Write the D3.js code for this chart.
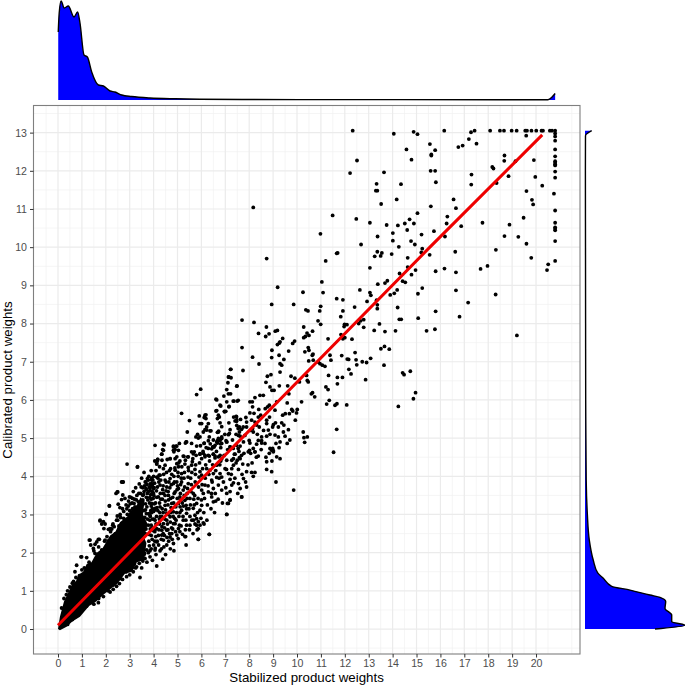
<!DOCTYPE html>
<html>
<head>
<meta charset="utf-8">
<script src="https://cdn.jsdelivr.net/npm/d3@7"></script>
<style>
html, body { margin: 0; padding: 0; background: #fff; }
svg { display: block; font-family: "Liberation Sans", Arial, sans-serif; }
</style>
</head>
<body>
<div id="chart"></div>
<script>
'use strict';

var xTicks = d3.range(0, 21);
var yTicks = d3.range(0, 14);
var xTitle = 'Stabilized product weights';
var yTitle = 'Calibrated product weights';

// points stuck at the upper limits of the two weights
var capTopRow = [[12.33,13.05],[16.16,13.05],[17.28,13.01],[17.43,13.05],[18.08,13.05],[18.49,13.05],[18.66,13.05],[18.98,13.05],[19.19,13.05],[19.55,13.05],[19.62,13.05],[19.81,13.05],[20.01,13.05],[20.23,13.05],[20.29,13.05],[20.58,13.05],[20.67,13.05],[20.8,13.05]];
var capRightColumn = [[20.8,12.98],[20.8,12.9],[20.8,12.79],[20.8,12.56],[20.8,12.38],[20.8,12.25],[20.8,12.21],[20.8,12.17],[20.8,12.14],[20.8,11.98],[20.8,11.82],[20.75,11.4],[20.8,10.96],[20.8,10.64],[20.8,10.52],[20.8,10.48],[20.8,10.44],[20.8,10.16],[20.8,9.64]];

var upperPoints = [[14.05,12.97],[14.88,13.02],[15.04,12.96],[14.58,12.56],[14.79,12.29],[15.56,12.7],[15.78,12.54],[15.62,12.43],[15.62,12.4],[13.64,11.96],[15.59,12],[15.78,12],[13.33,11.66],[14.35,11.65],[15.81,11.7],[13.3,11.48],[13.36,11.48],[14.17,11.25],[13.52,11.13],[15.6,11.07],[15.04,10.89],[13.05,10.64],[13.75,10.58],[14.22,10.57],[14.51,10.62],[14.71,10.73],[14.89,10.62],[14.61,10.45],[14.01,10.37],[13.37,10.28],[14.01,10.17],[15.21,10.33],[14.77,10.16],[14.93,10.07],[14.26,10.01],[15.73,10.42],[15.24,9.96],[15.2,9.86],[15.55,9.8],[14.63,9.72],[13.96,9.82],[13.36,9.88],[13.25,9.76],[13.5,9.77],[13.55,9.85],[13.05,9.46],[14.63,9.48],[14.96,9.4],[14.79,9.28],[14.29,9.31],[14.42,9.11],[14.53,9.08],[13.78,9.12],[13.68,9.06],[13.38,9.03],[14.19,8.88],[14.07,8.79],[13.9,8.75],[15.24,8.93],[15.06,8.78],[13.05,8.81],[13.09,8.74],[13.33,8.61],[13.36,8.49],[13.36,8.39],[14.21,8.42],[15.8,8.32],[15.07,8.14],[14.28,8.11],[14.36,8.11],[13.45,7.99],[13.23,7.82],[13.68,7.79],[14.12,7.81],[15.42,7.81],[15.77,7.85],[13.51,7.34],[13.66,7.4],[13.86,7.33],[16.55,11.25],[16.65,11.02],[16.29,10.8],[16.26,10.62],[16.87,10.55],[16.19,10.28],[16.62,9.88],[16.17,9.44],[15.8,9.37],[16.65,9.34],[16.65,8.87],[17.16,8.55],[16.8,8.18],[17.68,9.43],[17.97,9.51],[18.31,8.76],[18.32,9.93],[17.76,10.64],[18.89,10.59],[18.68,10.29],[19.26,10.27],[19.48,10.77],[19.6,10.09],[19.8,9.72],[19.2,7.69],[20.51,9.55],[20.46,9.4],[19.6,11.47],[19.83,11.24],[19.88,11.12],[20.26,11.61],[19.97,11.84],[19.91,12.28],[18.85,11.86],[19.14,12.25],[18.68,12.4],[18.67,12.26],[18.17,12.1],[18.22,12.06],[18.35,11.68],[17.3,11.9],[17.29,11.64],[16.75,12.62],[16.93,12.66],[17.19,12.83],[17.51,12.71],[19.59,12.92],[12.51,12.27],[12.22,11.94],[8.17,11.04],[11.49,10.83],[12.48,10.74],[10.98,10.35]];

var middlePoints = [[12.68,10.07],[11.7,9.85],[11.66,9.84],[11.2,9.64],[8.73,9.7],[11.04,9.09],[11.09,8.81],[10.25,8.82],[9.19,8.95],[8.94,8.5],[9.86,8.5],[11.66,8.65],[11.92,8.62],[12.63,8.88],[12.93,8.58],[12.41,8.43],[10.99,8.45],[10.95,8.33],[10.37,8.36],[10.46,8.33],[11.92,8.33],[11.83,8.18],[10.88,8.07],[10.99,7.98],[7.7,8.09],[8.2,8.03],[8.72,7.91],[10.28,7.91],[11.99,7.98],[12.09,7.97],[11.97,7.92],[12.58,8],[12.66,8.07],[12.79,8.1],[12.79,7.9],[8.39,7.74],[8.83,7.73],[8.69,7.66],[9.09,7.8],[9.18,7.82],[10.42,7.75],[10.5,7.69],[10.35,7.66],[10.28,7.63],[10.65,7.8],[11.84,7.71],[12,7.63],[11.92,7.6],[11.3,7.6],[12.3,7.59],[9.4,7.61],[9.29,7.52],[9.18,7.45],[9.26,7.49],[9.9,7.54],[9.82,7.48],[7.7,7.37],[10.47,7.37],[10.33,7.26],[10.5,7.3],[8.95,7.3],[9.65,7.28],[8.14,7.12],[8.94,7.11],[9.25,7.17],[9.45,7.06],[10.67,7.2],[10.64,7.17],[10.49,7.02],[10.68,7.04],[8.41,6.94],[9.29,6.95],[9.36,6.91],[10.89,6.99],[10.96,6.95],[11.06,6.91],[11.17,6.88],[11.38,7.17],[11.42,7.04],[11.87,7.16],[12.1,7.07],[12.16,7.06],[12.43,7.24],[12.47,7.05],[12.5,6.92],[12.73,7],[12.91,6.98],[13.08,7.09],[12.17,6.8],[12.26,6.68],[12.87,6.53],[7.22,6.8],[7.74,6.77],[7.15,6.6],[7.24,6.58],[7.11,6.45],[7.49,6.37],[5.97,6.28],[8.76,6.62],[8.91,6.66],[8.7,6.46],[8.87,6.34],[8.95,6.25],[9.04,6.25],[9.29,6.73],[9.75,6.62],[9.91,6.57],[10.4,6.64],[10.43,6.51],[10.47,6.47],[10.1,6.47],[9.26,6.37],[9.61,6.37],[11.32,6.64],[11.69,6.59],[11.69,6.42],[11.9,6.59],[11.21,6.34],[11.3,6.27],[10.6,6.16],[10.65,6.19],[10.74,6.08],[11.35,5.99],[11.24,5.89],[11.59,5.86],[11.67,5.9],[12.08,5.87],[10.19,5.95],[9.59,5.92],[9.66,6.16],[7.06,6.27],[7.13,6.16],[7.22,6.16],[6.94,6.1],[6.61,6.02],[6.78,5.86],[6.61,5.71],[6.97,5.69],[7.06,5.95],[7.15,5.82],[7.33,5.97],[7.5,5.97],[7.54,5.99],[8.03,5.95],[8.13,5.95],[8.24,6.06],[8.45,6.12],[8.59,6.12],[8.14,5.82],[8.77,5.82],[8.84,5.86],[8.67,5.77],[9.08,5.73],[9.15,5.95],[9.78,5.75],[10.01,5.75],[9.98,5.66],[9.82,5.71],[9.68,5.64],[9.51,5.64],[9.93,5.47],[10.26,5.16],[10.43,5.03],[10.29,5.01],[10.32,4.89],[11.66,5.23],[11.53,4.63],[14.24,5.83],[14.87,6.03],[14.96,6.19],[14.42,6.71],[14.48,6.66],[14.74,6.75],[13.64,6.91],[6.15,5.6],[6.19,5.51],[6.29,5.38],[6.01,5.38],[6.08,5.16],[6.22,5.21],[6.4,5.19],[6.71,5.16],[6.78,5.4],[6.29,4.93],[6.11,4.86],[6.67,4.93],[6.85,4.99],[6.67,4.87],[6.57,4.81],[6.47,4.77],[7.03,4.93],[7.17,5.12],[7.47,5.56],[7.47,5.44],[7.64,5.49],[7.86,5.54],[7.89,5.42],[7.89,5.29],[8.1,5.47],[8.03,5.66],[8.14,5.25],[8.24,5.42],[8.38,5.55],[8.48,5.6],[8.31,5.34],[8.42,5.29],[7.54,5.25],[7.68,5.23],[7.75,5.29],[7.45,5.1],[7.59,5.16],[7.82,5.07],[8.17,5.16],[8.34,5.1],[8.52,5.03],[8.73,5.47],[8.73,5.38],[8.8,5.21],[8.98,5.29],[9.01,5.35],[9.22,5.29],[9.36,5.4],[9.45,5.34],[9.64,5.22],[9.43,5.16],[9.22,5.03],[9.29,4.9],[9.08,5.08],[8.73,5.05],[8.87,5.1],[9.59,4.86],[9.12,4.86],[8.66,4.86],[8.38,4.94],[8.52,4.93],[8,4.94],[7.47,4.81],[7.2,4.77],[7.33,4.73],[7.54,4.73],[7.38,4.58],[7.68,4.55],[7.59,4.49],[8.17,4.73],[7.96,4.64],[8.24,4.64],[8.06,4.6],[8.87,4.73],[9.01,4.64],[8.94,4.68],[9.29,4.46],[6.78,4.55],[6.5,4.58],[6.29,4.73],[6.08,4.6],[6.57,4.48],[9.86,3.64]];

var lowerPoints = [[4.06,4.81],[4.41,4.84],[4.83,4.77],[4.94,4.79],[5.04,4.68],[4.83,4.68],[5.36,4.9],[5.59,4.86],[6.12,4.87],[6.5,4.77],[6.81,4.75],[7.06,4.9],[7.76,4.9],[8.03,4.87],[8.31,4.84],[8.52,4.87],[8.98,4.73],[8.84,4.6],[9.01,4.67],[9.15,4.51],[8.01,4.68],[8.24,4.64],[8.38,4.53],[7.62,4.79],[4.38,4.7],[4.34,4.58],[4.16,4.4],[4.13,4.32],[4.69,4.46],[4.48,4.29],[4.41,4.2],[4.27,4.03],[4.9,4.46],[4.97,4.33],[5.1,4.4],[5.24,4.53],[5.43,4.51],[5.64,4.46],[5.7,4.64],[5.94,4.58],[6.01,4.46],[6.15,4.51],[6.33,4.53],[6.57,4.53],[6.71,4.51],[6.81,4.4],[6.64,4.29],[4.71,4.2],[4.9,4.16],[5.04,4.25],[5.17,4.07],[5.31,4.32],[5.45,4.23],[5.59,4.29],[5.73,4.18],[5.94,4.12],[6.01,4.03],[6.22,4.2],[6.36,4.16],[6.5,4.07],[6.78,4.07],[6.64,3.97],[6.85,3.98],[7.06,4.42],[7.27,4.42],[7.34,4.29],[7.5,4.42],[7.62,4.46],[7.73,4.32],[7.55,4.18],[7.27,4.2],[7.13,4.07],[6.99,4.2],[7.89,4.12],[8.1,4.1],[8.24,4.1],[8.17,4],[8.73,4.38],[8.73,4.18],[8.94,4.12],[9.12,3.85],[7.2,3.92],[7.34,3.83],[7.55,3.81],[7.76,3.94],[7.89,3.72],[7.62,3.68],[7.27,3.77],[6.85,3.64],[6.71,3.77],[6.43,3.9],[6.5,3.68],[6.15,3.77],[6.01,3.64],[6.29,3.59],[7.06,3.55],[7.2,3.39],[7.09,3.29],[6.43,3.46],[6.5,3.33],[6.6,3.35],[7.69,3.46],[7.06,3],[6.01,3.24],[5.94,3.11],[5.73,2.98],[5.8,3.29],[6.08,3.55],[5.66,3.55],[5.52,3.42],[5.31,3.37],[5.36,3.24],[5.17,3.11],[5.38,3.03],[5.66,3.16],[5.24,2.85],[5.04,2.63],[4.9,2.76],[4.69,2.94],[5.87,2.81],[5.8,2.72],[5.87,2.63],[6.11,2.75],[5.34,2.42],[6.33,2.48],[5.87,2.35],[5.52,2.72],[4.97,2.46],[4.13,3.98],[3.92,3.81],[4.27,3.77],[4.48,3.9],[4.69,3.94],[4.55,3.72],[4.83,3.81],[4.97,3.85],[5.17,3.85],[4.41,3.55],[4.62,3.5],[4.9,3.59],[5.04,3.68],[5.24,3.64],[5.45,3.81],[4.2,3.46],[3.99,3.55],[4.76,3.29],[5.04,3.29],[4.48,3.24],[4.27,3.2],[4.06,3.16],[3.92,3.29],[4.55,3.03],[4.83,3.07],[4.27,2.94],[4.06,2.85],[4.41,2.76],[4.13,2.63],[4.55,2.59],[4.34,2.46],[4.76,2.5],[3.85,2.98],[5.1,3.46]];

var leftFringePoints = [[7.23,6.8],[7.13,6.6],[7.48,6.36],[5.8,6.14],[6.64,6],[7.36,5.97],[6.81,5.84],[7.16,5.83],[6.64,5.72],[6.96,5.7],[7.02,5.7],[5.17,5.65],[5.91,5.58],[6.12,5.54],[6.19,5.61],[6.71,5.6],[6.75,5.55],[6.67,5.51],[7.45,5.57],[7.48,5.48],[7.41,5.45],[5.5,5.46],[5.94,5.38],[6.22,5.29],[6.15,5.22],[7.48,5.33],[7.59,5.29],[5.41,5.16],[6.36,5.19],[6.33,5.03],[6.72,5.18],[7.2,5.22],[7.13,5.09],[5.84,5.1],[5.77,5.03],[5.94,5.03],[5.87,5],[6.85,5.03],[6.71,4.99],[6.64,4.9],[6.78,4.94],[6.85,4.86],[7.55,5.07],[5.38,4.9],[5.33,4.87],[4.44,4.82],[4.41,4.68],[5.08,4.86],[4.97,4.79],[4.83,4.79],[4.9,4.7],[4.85,4.64],[5.8,4.79],[6.53,4.77],[6.43,4.72],[7.2,4.77],[7.06,4.9],[4.17,4.44],[4.69,4.46],[4.97,4.51],[5.27,4.52],[5.45,4.51],[5.66,4.59],[5.59,4.64],[5.94,4.59],[6.15,4.55],[6.29,4.55],[6.5,4.58],[7.41,4.58],[7.34,4.46],[6.85,4.46],[4.34,4.58],[2.89,4.32],[3.32,4.24],[4.17,4.44],[4.13,4.33],[4.57,4.44],[2.66,3.85],[2.73,3.85],[3.74,3.94],[3.68,3.85],[4.23,4.03],[3.92,3.9],[3.95,3.78],[3.92,3.74],[2.48,3.59],[2.43,3.55],[3.68,3.68],[3.85,3.68],[2.71,3.51],[2.8,3.42],[2.66,3.39],[2.99,3.46],[2.15,3.23],[2.52,3.27],[2.59,3.18],[2.94,3.22],[3.18,3.29],[3.36,3.33],[3.22,3.2],[2.01,3.01],[2.48,2.96],[3.22,3.07],[3.22,2.98],[1.76,2.85],[1.9,2.81],[1.83,2.75],[2.29,2.72],[2.18,2.63],[2.11,2.61],[1.92,2.63],[2.57,2.68],[1.31,2.33],[1.73,2.35],[1.62,2.28],[1.55,2.22],[1.37,2.2],[1.97,2.33],[2.11,2.31],[1.48,2.11],[0.99,1.89],[1.2,1.87],[1.55,1.98],[1.83,2.07],[1.76,1.89],[0.78,1.67],[0.71,1.5]];

var belowLinePoints = [[3.43,1.35],[4.13,1.65],[4.38,1.83],[4.85,2.05],[5.36,2.2],[5.87,2.35],[6.33,2.48],[5.31,2.42],[5.73,2.75],[7.06,3],[7.2,3.37],[7.13,3.29],[7.68,3.46],[2.57,1.19],[2.31,1.04],[2.18,0.97],[1.69,0.69],[3.29,1.63],[3.15,1.5],[2.87,1.37],[3.85,1.89],[3.64,1.85],[4.06,2.07],[3.71,2.07],[4.55,2.2],[4.83,2.24],[5.03,2.37],[4.69,2.41],[4.13,2.28],[4.41,2.33],[4.34,2.59],[4.83,2.76],[5.1,2.55],[5.38,2.72],[5.94,2.72],[6.08,2.78],[5.8,2.89],[2.9,2],[3,1.75],[3.1,2],[3.2,1.7],[3.3,2.05],[3.4,1.85],[3.45,2.2],[3.5,1.6],[3.55,2.35],[3.6,1.95],[3.65,2.5],[3.72,1.75],[3.8,2.3],[3.85,2.05],[3.9,2.45],[3.95,1.8],[4,2.2],[4.1,1.95],[4.2,2.45],[4.27,2.05],[4.4,2.5],[4.5,1.95],[4.6,2.6],[4.7,2.1],[0.4,0.12],[0.6,0.25],[0.8,0.4],[1,0.5],[1.2,0.6],[1.4,0.7],[1.5,0.65],[1.7,0.8],[1.9,0.85],[2.1,1],[2.3,1.15],[2.45,1.12],[2.6,1.32],[2.7,1.3],[2.85,1.5],[3,1.42],[3.12,1.62],[3.25,1.6],[3.4,1.72],[3.55,1.78],[3.62,1.98],[3.78,2],[3.9,2.1],[4.05,2.3]];

var crowdedPoints = [[3.05,3.02],[3.12,3.15],[3.2,2.9],[3.28,3.05],[3.35,3.12],[3.4,2.85],[3.46,3],[3.5,3.25],[3.55,3.38],[3.6,3.1],[3.63,2.92],[3.7,3.45],[3.72,3.2],[3.78,3.6],[3.8,3.02],[3.83,3.3],[3.88,3.52],[3.9,2.72],[3.95,3.15],[3.98,3.42],[4.02,3.7],[4.05,2.55],[4.08,3.3],[4.12,3.62],[4.15,2.3],[4.18,3.1],[4.22,3.85],[4.25,2.75],[4.3,3.4],[4.33,2.1],[4.38,3.65],[4.4,3.05],[4.45,2.45],[4.48,3.5],[4.52,3.85],[4.55,2.85],[4.6,3.25],[4.63,2.3],[4.68,3.7],[4.72,3.05],[4.75,2.65],[4.8,3.45],[4.85,4],[4.88,2.9],[4.93,3.2],[4.98,3.65],[5.02,4.1],[5.06,2.95],[5.12,3.55],[5.15,2.7],[5.2,3.3],[5.27,3.95],[5.33,2.6],[5.4,3.55],[5.48,3.15],[5.55,3.95],[5.6,2.85],[5.68,3.4],[5.75,4.05],[2.2,2.55],[2.3,2.75],[2.4,2.5],[2.45,2.85],[2.55,2.7],[2.6,3],[2.65,2.75],[2.7,3.15],[2.75,2.9],[2.85,3.25],[2.9,3],[2.95,3.35],[3,3.1],[3.05,3.45],[3.1,3.3],[3.15,3.6],[3.2,3.4],[3.25,3.7],[3.3,3.5],[3.4,3.8],[3.45,3.55],[3.5,3.95],[3.55,3.7],[3.6,4.1],[3.65,3.85],[3.7,3.65],[3.8,4],[3.85,3.8],[3.9,4.15],[3.97,3.9],[4.05,4.4],[0.15,0.55],[0.25,0.8],[0.35,0.9],[0.4,1],[0.5,1.1],[0.6,1.2],[0.65,1.25],[0.75,1.35],[0.9,1.4],[1,1.55],[1.1,1.6],[1.3,1.75],[1.34,2.33],[1.69,2.35],[0.96,1.89],[3.33,4.25],[2.7,3.85],[2.5,3.59],[2.15,3.22],[2.01,3],[1.76,2.83],[1.97,2.75],[1.5,2.05],[1.7,2.15],[1.95,2.3],[2.05,2.42],[2.25,2.62],[2.35,2.68],[2.5,2.85],[2.62,2.92],[2.75,3.08],[2.88,3.15],[3.02,3.28],[3.12,3.42],[3.28,3.38],[3.38,3.55],[3.48,3.72],[3.6,3.6],[3.72,3.78],[3.78,3.9],[4,4],[4.1,4.15],[4.25,4.25],[4.35,4.42]];

var bandPoints = [[3.58,3.52],[3.66,3.28],[3.7,3.02],[3.74,2.88],[3.68,2.62],[3.78,2.72],[3.8,2.48],[3.76,3.38],[3.82,3.72],[3.9,3.4],[3.92,3.05],[3.86,2.95],[3.94,2.65],[4.02,2.88],[4.06,3.12],[4,3.68],[3.95,3.6],[3.62,3.75],[3.55,3.5],[3.74,3.55],[3.66,3.12],[3.9,3.22],[3.84,3.45],[4.08,2.62],[3.82,2.18],[3.86,2.62],[3.84,2.85],[3.88,3.1],[3.86,3.62],[3.92,3.95],[3.94,2.35],[3.97,2.58],[3.96,2.88],[4,3.08],[4.03,3.28],[4.01,3.5],[4.04,3.82],[4.07,2.12],[4.09,2.42],[4.1,2.75],[4.12,2.95],[4.14,3.18],[4.13,3.45],[4.16,3.72],[4.18,3.95],[4.21,2.2],[4.22,2.6],[4.24,2.88],[4.26,3.05],[4.25,3.3],[4.28,3.55],[4.3,3.9],[4.32,2.35],[4.35,2.68],[4.34,2.95],[4.36,3.15],[4.37,3.4],[4.4,3.75],[4.42,4.05],[4.43,2.15],[4.46,2.65],[4.47,2.88],[4.5,3.12],[4.49,3.35],[4.52,3.62],[4.54,4.1],[4.56,2.4],[4.58,2.75],[4.6,3],[4.62,3.38],[4.61,3.6],[4.64,3.85],[4.66,4.15],[4.67,2.5],[4.7,2.8],[4.73,3.18],[4.71,3.42],[4.74,3.78],[4.76,4.05],[4.78,2.35],[4.8,2.62],[4.82,2.95],[4.84,3.3],[4.86,3.55],[4.87,3.85],[4.89,4.22],[4.92,2.55],[4.94,2.85],[4.96,3.05],[4.99,3.42],[5,3.75],[5.03,4],[5.05,4.35],[5.08,2.72],[5.1,3.05],[5.11,3.2],[5.14,3.38],[5.13,3.78],[5.16,3.95],[5.18,4.25],[5.21,2.48],[5.23,2.95],[5.25,3.22],[5.28,3.5],[5.3,3.72],[5.29,4.1],[5.33,4.42],[5.35,2.85],[5.38,3.15],[5.4,3.42],[5.42,3.68],[5.44,3.98],[5.46,4.15],[5.5,2.6],[5.52,2.95],[5.54,3.25],[5.56,3.6],[5.58,3.78],[5.6,4.1],[5.62,4.38],[5.65,2.5],[5.67,2.85],[5.7,3.25],[5.72,3.5],[5.74,3.85],[5.76,4.3],[5.78,4.55],[5.82,2.6],[5.84,3.05],[5.86,3.42],[5.88,3.72],[5.9,3.98],[5.92,4.35],[5.96,4.8],[5.98,2.9],[6,3.38],[6.03,3.78],[6.05,4.2],[6.07,4.65],[6.1,3.05],[6.13,3.42],[6.16,3.95],[6.18,4.3],[6.2,4.75],[6.23,2.85],[6.25,3.25],[6.28,3.75],[6.31,4.05],[6.34,4.4],[6.37,4.85],[6.4,3.15],[6.42,3.55],[6.45,3.85],[6.47,4.3],[6.5,4.95],[6.55,3.05],[6.58,3.55],[6.6,4.15],[6.63,4.65],[6.67,5.15],[6.7,3.4],[6.74,3.95],[6.77,4.3],[6.8,4.85],[6.85,5.3],[6.88,3.3],[6.92,3.85],[6.95,4.55],[6.98,5.1],[7.02,3.7],[7.05,4.18],[7.1,4.7],[7.15,5.4],[7.2,3.6],[7.25,4.05],[7.3,4.95],[7.35,5.55],[7.4,3.95],[7.45,4.35],[7.52,3.55],[7.57,4.65],[7.62,5.05],[7.7,4.05],[7.78,4.6],[7.85,3.85],[7.95,4.3],[8.05,5.2],[8.12,4.35],[8.2,5.65],[8.3,4.5],[8.4,5.75],[8.5,4.7],[8.6,5.2],[8.7,4.5],[8.85,5.55],[8.95,4.4],[9.1,5.4],[9.25,4.75],[9.4,5.6],[9.5,5.05],[9.7,4.95]];

// the lower left of the cloud is solid black in the picture, too many
// overlapping dots to read one by one, so its outline is read instead
var solidCloudOutline = [[0,0],[0.08,0.32],[0.25,0.72],[0.4,0.92],[0.57,1.15],[0.75,1.25],[0.85,1.42],[1.05,1.5],[1.2,1.7],[1.4,1.75],[1.62,2],[1.85,2.1],[2.18,2.45],[2.4,2.55],[2.6,2.8],[2.9,2.95],[3.1,3.15],[3.3,3.25],[3.45,3.45],[3.62,3.35],[3.55,3],[3.75,2.75],[3.6,2.4],[3.7,2.25],[3.6,1.8],[3.3,1.75],[3.1,1.5],[2.8,1.45],[2.5,1.2],[2.2,1.05],[1.9,0.9],[1.6,0.72],[1.3,0.6],[0.92,0.32],[0.6,0.2],[0.36,0.06],[0.08,-0.03]];

var fitLineX = [0, 6.78, 15.56, 20.26];
var fitLineY = [0.1, 4.42, 10, 12.94];

var topDensityX = [0.01,0.05,0.13,0.26,0.43,0.67,0.82,0.92,1.09,1.23,1.41,1.69,1.9,2.18,2.38,2.67,3.08,3.85,4.9,5.94,8.03,10.13,14.3,18.5,20.5,20.67,20.8];
var topDensityH = [0.68,0.87,0.99,0.92,0.94,0.83,0.88,0.77,0.45,0.43,0.28,0.15,0.14,0.09,0.08,0.05,0.035,0.02,0.012,0.008,0.005,0.004,0.004,0.003,0.003,0.03,0.065];

var rightDensityY = [0,0.1,0.19,0.37,0.54,0.72,0.83,0.89,1.02,1.12,1.33,1.47,1.8,2.33,3.03,3.9,5,6,8,10,12,12.92,13.05];
var rightDensityW = [0.7,1,0.867,0.867,0.8,0.807,0.75,0.65,0.45,0.267,0.183,0.127,0.083,0.043,0.023,0.012,0.009,0.007,0.006,0.005,0.004,0.005,0.067];

var width = 685,
    height = 685;

var panel = { left: 33.5, right: 580, top: 105.5, bottom: 654 };

var svg = d3.select('#chart').append('svg')
    .attr('width', width)
    .attr('height', height);

var x = d3.scaleLinear().domain([-1.025, 21.84]).range([panel.left, panel.right]);
var y = d3.scaleLinear().domain([-0.654, 13.71]).range([panel.bottom, panel.top]);

var topH = d3.scaleLinear().domain([0, 1]).range([100, 0]);
var rightW = d3.scaleLinear().domain([0, 1]).range([585, 685]);

// grid
var grid = svg.append('g');
var xMinor = d3.range(-0.5, 22, 1);
var yMinor = d3.range(-0.5, 14, 1);

grid.selectAll('.xminor').data(xMinor).enter().append('line')
    .attr('x1', x).attr('x2', x)
    .attr('y1', panel.top).attr('y2', panel.bottom)
    .attr('stroke', '#f0f0f0').attr('stroke-width', 0.7);
grid.selectAll('.yminor').data(yMinor).enter().append('line')
    .attr('y1', y).attr('y2', y)
    .attr('x1', panel.left).attr('x2', panel.right)
    .attr('stroke', '#f0f0f0').attr('stroke-width', 0.7);
grid.selectAll('.xmajor').data(xTicks).enter().append('line')
    .attr('x1', x).attr('x2', x)
    .attr('y1', panel.top).attr('y2', panel.bottom)
    .attr('stroke', '#ebebeb').attr('stroke-width', 1.2);
grid.selectAll('.ymajor').data(yTicks).enter().append('line')
    .attr('y1', y).attr('y2', y)
    .attr('x1', panel.left).attr('x2', panel.right)
    .attr('stroke', '#ebebeb').attr('stroke-width', 1.2);

// points
var scatter = svg.append('g');
var outline = d3.line().x(function(d) { return x(d[0]); }).y(function(d) { return y(d[1]); });

scatter.append('path')
    .attr('d', outline(solidCloudOutline) + 'Z')
    .attr('fill', '#000');

var allPoints = [].concat(capTopRow, capRightColumn, upperPoints, middlePoints, lowerPoints,
    leftFringePoints, belowLinePoints, crowdedPoints, bandPoints);

scatter.selectAll('circle')
    .data(allPoints)
    .enter()
    .append('circle')
    .attr('cx', function(d) { return x(d[0]); })
    .attr('cy', function(d) { return y(d[1]); })
    .attr('r', 1.9)
    .attr('fill', '#000');

// fit line
svg.append('path')
    .attr('d', d3.line()
        .x(function(d) { return x(d); })
        .y(function(d, i) { return y(fitLineY[i]); })(fitLineX))
    .attr('fill', 'none')
    .attr('stroke', '#ee0000')
    .attr('stroke-width', 3);

// panel border
svg.append('rect')
    .attr('x', panel.left).attr('y', panel.top)
    .attr('width', panel.right - panel.left)
    .attr('height', panel.bottom - panel.top)
    .attr('fill', 'none')
    .attr('stroke', '#7f7f7f')
    .attr('stroke-width', 1.1);

// axes
var xAxis = svg.append('g')
    .attr('transform', 'translate(0,' + panel.bottom + ')')
    .call(d3.axisBottom(x).tickValues(xTicks).tickFormat(d3.format('d')).tickSize(3.5).tickSizeOuter(0).tickPadding(2));
var yAxis = svg.append('g')
    .attr('transform', 'translate(' + panel.left + ',0)')
    .call(d3.axisLeft(y).tickValues(yTicks).tickFormat(d3.format('d')).tickSize(3.5).tickSizeOuter(0).tickPadding(3));

[xAxis, yAxis].forEach(function(a) {
    a.select('.domain').remove();
    a.selectAll('line').attr('stroke', '#333333').attr('stroke-width', 1);
    a.selectAll('text')
        .attr('fill', '#4d4d4d')
        .style('font-size', '10.6px')
        .style('font-family', '"Liberation Sans", Arial, sans-serif');
});

svg.append('text')
    .attr('x', 306.6)
    .attr('y', 681.7)
    .attr('text-anchor', 'middle')
    .style('font-size', '13.3px')
    .text(xTitle);

svg.append('text')
    .attr('transform', 'translate(12.2,380) rotate(-90)')
    .attr('text-anchor', 'middle')
    .style('font-size', '13.3px')
    .text(yTitle);

// top marginal density
var topData = topDensityX.map(function(d, i) { return [d, topDensityH[i]]; });

svg.append('path')
    .datum(topData)
    .attr('fill', '#0000ff')
    .attr('d', d3.area()
        .curve(d3.curveMonotoneX)
        .x(function(d) { return x(d[0]); })
        .y0(topH(0))
        .y1(function(d) { return topH(d[1]); }));
svg.append('path')
    .datum(topData)
    .attr('fill', 'none')
    .attr('stroke', '#000')
    .attr('stroke-width', 1.4)
    .attr('d', d3.line()
        .curve(d3.curveMonotoneX)
        .x(function(d) { return x(d[0]); })
        .y(function(d) { return topH(d[1]); }));

// right marginal density
var rightData = rightDensityY.map(function(d, i) { return [d, rightDensityW[i]]; });

svg.append('path')
    .datum(rightData)
    .attr('fill', '#0000ff')
    .attr('d', d3.area()
        .curve(d3.curveMonotoneY)
        .y(function(d) { return y(d[0]); })
        .x0(rightW(0))
        .x1(function(d) { return rightW(d[1]); }));
svg.append('path')
    .datum(rightData)
    .attr('fill', 'none')
    .attr('stroke', '#000')
    .attr('stroke-width', 1.4)
    .attr('d', d3.line()
        .curve(d3.curveMonotoneY)
        .y(function(d) { return y(d[0]); })
        .x(function(d) { return rightW(d[1]); }));
</script>
</body>
</html>
